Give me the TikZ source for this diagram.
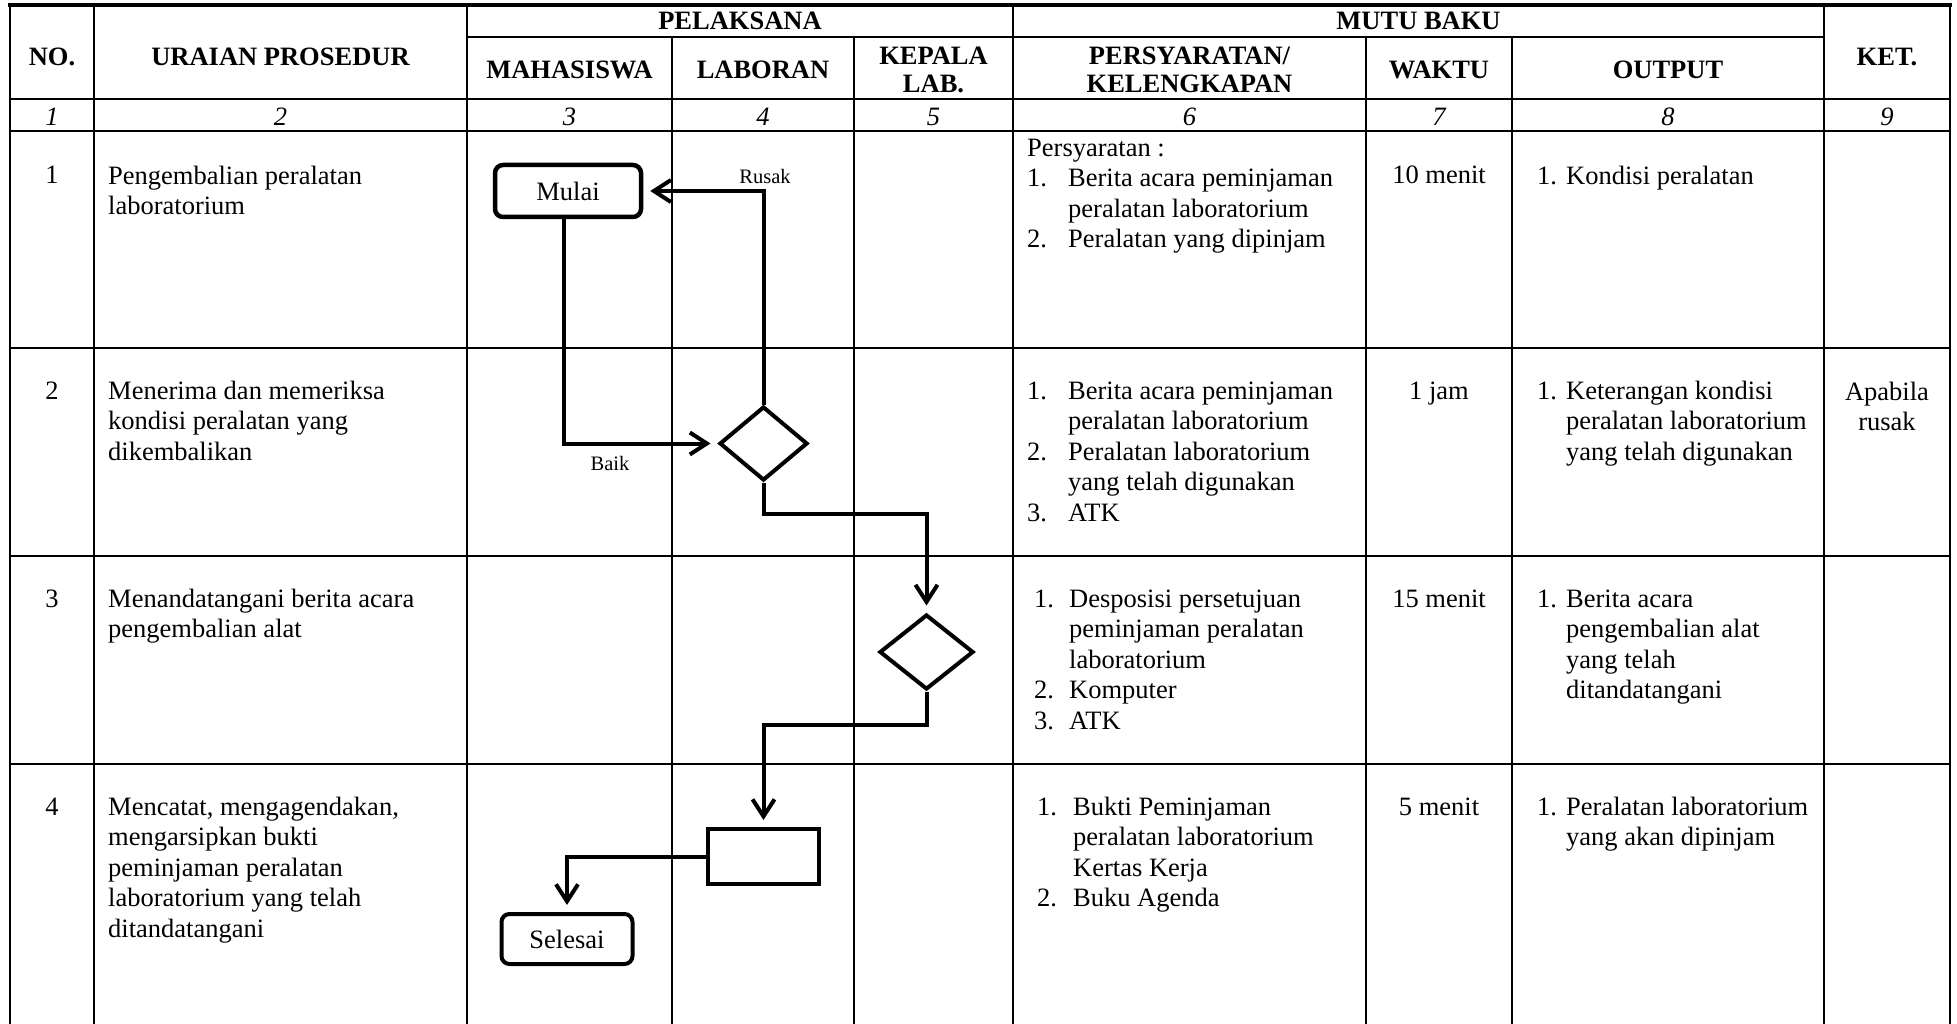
\documentclass[tikz,border=0pt]{standalone}
\usepackage{fontspec}
\setmainfont{Liberation Serif}
\usetikzlibrary{arrows.meta,shapes.geometric}
\newcommand\itm[3]{\makebox[#1pt][l]{#2}#3}
\newcommand\cnt[2]{\hspace*{#1pt}#2}
\newcommand\mycell[4]{\node[body] (#1) at (#2,#3-20) {\rule{0pt}{20pt}#4};}
\newcommand\mycellc[4]{\node[bodyc] (#1) at (#2,#3-20) {\rule{0pt}{20pt}#4};}
\begin{document}
\begin{tikzpicture}[x=1pt,y=-1pt,
  gridline/.style={line width=2.6pt, line cap=rect},
  topline/.style={line width=3.6pt, line cap=rect},
  hd/.style={inner sep=0pt, font=\fontsize{26.5}{28}\selectfont\bfseries, anchor=base},
  num/.style={inner sep=0pt, font=\fontsize{26.5}{28}\selectfont\itshape, anchor=base},
  body/.style={inner sep=0pt, font=\fontsize{26.5}{30.5}\selectfont, anchor=north west, align=left},
  bodyc/.style={inner sep=0pt, font=\fontsize{26.5}{30.5}\selectfont, anchor=north, align=center},
  ctr/.style={inner sep=0pt, font=\fontsize{26.5}{30.5}\selectfont, anchor=base},
  lbl/.style={inner sep=0pt, font=\fontsize{20.5}{22}\selectfont, anchor=base},
  term/.style={draw, line width=4.5pt, rounded corners=8pt, inner sep=0pt, fill=white,
    font=\fontsize{26.5}{30}\selectfont},
  dec/.style={draw, diamond, line width=4pt, inner sep=0pt, fill=white},
  procbox/.style={draw, rectangle, line width=4pt, inner sep=0pt, fill=white},
  flowarrow/.style={line width=4pt, -{Straight Barb[length=17pt,width=22pt]}, shorten >=7pt}
]
\useasboundingbox (0,0) rectangle (1957,1024);
\fill[white] (0,0) rectangle (1957,1024);

% ---------- grid ----------
\draw[topline] (10,5) -- (1950,5);
\foreach \x in {10,94,467,1013,1824,1950} \draw[gridline] (\x,5) -- (\x,1030);
\foreach \x in {672,854,1366,1512} \draw[gridline] (\x,37) -- (\x,1030);
\draw[gridline] (467,37) -- (1824,37);
\foreach \y in {99,131,348,556,764} \draw[gridline] (10,\y) -- (1950,\y);

% ---------- header ----------
\node[hd] (hNo) at (52,66) {NO.};
\node[hd] (hUr) at (280.5,66) {URAIAN PROSEDUR};
\node[hd] (hPel) at (740,30) {PELAKSANA};
\node[hd] (hMutu) at (1418.5,30) {MUTU BAKU};
\node[hd] (hKet) at (1887,66) {KET.};
\node[hd] (hMhs) at (569.5,79) {MAHASISWA};
\node[hd] (hLab) at (763,79) {LABORAN};
\node[hd] (hKepA) at (933.5,65) {KEPALA};
\node[hd] (hKepB) at (933.5,93) {LAB.};
\node[hd] (hPerA) at (1189.5,65) {PERSYARATAN/};
\node[hd] (hPerB) at (1189.5,93) {KELENGKAPAN};
\node[hd] (hWak) at (1439,79) {WAKTU};
\node[hd] (hOut) at (1668,79) {OUTPUT};

% ---------- column numbers ----------
\node[num] (c1) at (52,126) {1};
\node[num] (c2) at (280.5,126) {2};
\node[num] (c3) at (569.5,126) {3};
\node[num] (c4) at (763,126) {4};
\node[num] (c5) at (933.5,126) {5};
\node[num] (c6) at (1189.5,126) {6};
\node[num] (c7) at (1439,126) {7};
\node[num] (c8) at (1668,126) {8};
\node[num] (c9) at (1887,126) {9};

% ---------- row numbers ----------
\node[ctr] (n1) at (52,184) {1};
\node[ctr] (n2) at (52,399) {2};
\node[ctr] (n3) at (52,607) {3};
\node[ctr] (n4) at (52,815) {4};

% ---------- uraian prosedur ----------
\mycell{u1}{108}{184}{Pengembalian peralatan\\laboratorium}
\mycell{u2}{108}{399}{Menerima dan memeriksa\\kondisi peralatan yang\\dikembalikan}
\mycell{u3}{108}{607}{Menandatangani berita acara\\pengembalian alat}
\mycell{u4}{108}{815}{Mencatat, mengagendakan,\\mengarsipkan bukti\\peminjaman peralatan\\laboratorium yang telah\\ditandatangani}

% ---------- persyaratan ----------
\mycell{p1}{1027}{156}{Persyaratan :\\\itm{41}{1.}{Berita acara peminjaman}\\\cnt{41}{peralatan laboratorium}\\\itm{41}{2.}{Peralatan yang dipinjam}}
\mycell{p2}{1027}{399}{\itm{41}{1.}{Berita acara peminjaman}\\\cnt{41}{peralatan laboratorium}\\\itm{41}{2.}{Peralatan laboratorium}\\\cnt{41}{yang telah digunakan}\\\itm{41}{3.}{ATK}}
\mycell{p3}{1034}{607}{\itm{35}{1.}{Desposisi persetujuan}\\\cnt{35}{peminjaman peralatan}\\\cnt{35}{laboratorium}\\\itm{35}{2.}{Komputer}\\\itm{35}{3.}{ATK}}
\mycell{p4}{1037}{815}{\itm{36}{1.}{Bukti Peminjaman}\\\cnt{36}{peralatan laboratorium}\\\cnt{36}{Kertas Kerja}\\\itm{36}{2.}{Buku Agenda}}

% ---------- waktu ----------
\node[ctr] (w1) at (1439,184) {10 menit};
\node[ctr] (w2) at (1439,399) {1 jam};
\node[ctr] (w3) at (1439,607) {15 menit};
\node[ctr] (w4) at (1439,815) {5 menit};

% ---------- output ----------
\mycell{o1}{1537}{184}{\itm{29}{1.}{Kondisi peralatan}}
\mycell{o2}{1537}{399}{\itm{29}{1.}{Keterangan kondisi}\\\cnt{29}{peralatan laboratorium}\\\cnt{29}{yang telah digunakan}}
\mycell{o3}{1537}{607}{\itm{29}{1.}{Berita acara}\\\cnt{29}{pengembalian alat}\\\cnt{29}{yang telah}\\\cnt{29}{ditandatangani}}
\mycell{o4}{1537}{815}{\itm{29}{1.}{Peralatan laboratorium}\\\cnt{29}{yang akan dipinjam}}

% ---------- keterangan ----------
\mycellc{k2}{1887}{400}{Apabila\\rusak}

% ---------- flowchart ----------
\node[term, minimum width=146pt, minimum height=52pt] (mulai) at (568,191) {Mulai};
\node[dec, minimum width=88pt, minimum height=74pt] (d1) at (763.5,443.5) {};
\node[dec, minimum width=94pt, minimum height=75pt] (d2) at (926.5,652) {};
\node[procbox, minimum width=111pt, minimum height=55pt] (proc) at (763.5,856.5) {};
\node[term, line width=4pt, minimum width=131pt, minimum height=50pt] (selesai) at (567,939) {Selesai};

\node[lbl] (rusak) at (765,184) {Rusak};
\node[lbl] (baik) at (610,470) {Baik};

\draw[flowarrow] ([xshift=-4pt]mulai.south) |- (d1.west);
\draw[flowarrow] (d1.north) |- (mulai.east);
\draw[flowarrow] (d1.south) -- ++(0,31) -| (d2.north);
\draw[flowarrow] (d2.south) -- ++(0,33) -| (proc.north);
\draw[flowarrow] (proc.west) -| (selesai.north);
\end{tikzpicture}
\end{document}
